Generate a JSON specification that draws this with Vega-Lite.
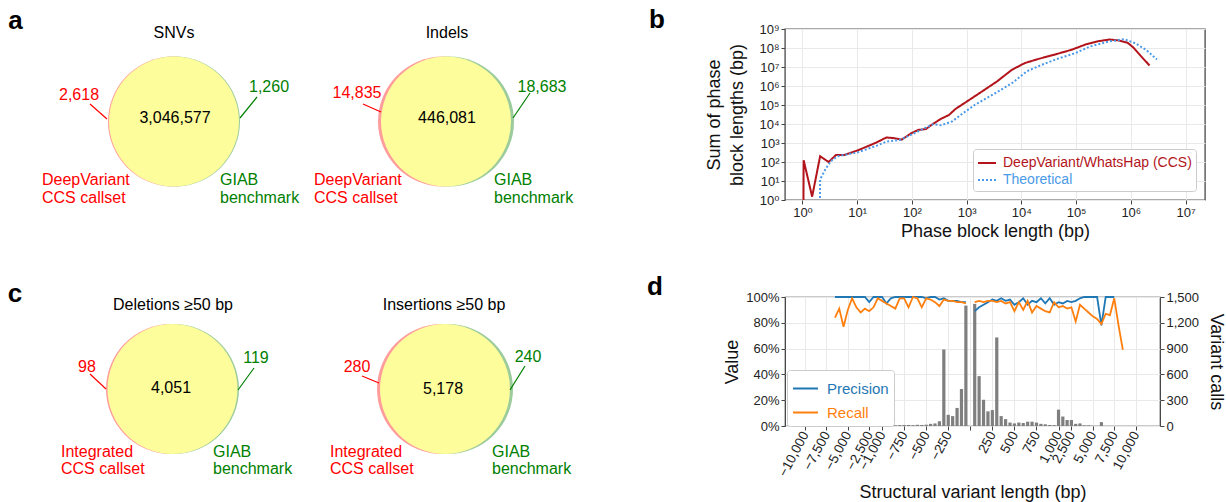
{
  "$schema": "https://vega.github.io/schema/vega-lite/v6.json",
  "padding": 0,
  "background": "white",
  "config": {
    "font": "Liberation Sans",
    "view": {"stroke": null},
    "axis": {"labelFont": "Liberation Sans, DejaVu Sans", "titleFont": "Liberation Sans", "labelColor": "#222222", "titleColor": "#111111", "titleFontWeight": "normal", "tickColor": "#444444", "domainColor": "#444444", "gridColor": "#e9e9e9"},
    "legend": {"labelFont": "Liberation Sans"}
  },
  "datasets": {
    "topCircles": [
      {"venn": "SNVs", "region": "callset only", "x": 173, "y": 121.5},
      {"venn": "SNVs", "region": "benchmark only", "x": 175, "y": 121.5},
      {"venn": "SNVs", "region": "shared", "x": 174, "y": 121.5},
      {"venn": "Indels", "region": "callset only", "x": 443, "y": 121.5},
      {"venn": "Indels", "region": "benchmark only", "x": 449, "y": 121.5},
      {"venn": "Indels", "region": "shared", "x": 446, "y": 121.5}
    ],
    "topCenterTexts": [
      {"text": "SNVs", "x": 174, "y": 33, "set": "title"},
      {"text": "Indels", "x": 447, "y": 33, "set": "title"},
      {"text": "2,618", "x": 79, "y": 95, "set": "callset"},
      {"text": "1,260", "x": 269, "y": 87, "set": "benchmark"},
      {"text": "3,046,577", "x": 175, "y": 118, "set": "shared"},
      {"text": "14,835", "x": 357, "y": 93, "set": "callset"},
      {"text": "18,683", "x": 542, "y": 87, "set": "benchmark"},
      {"text": "446,081", "x": 447, "y": 118, "set": "shared"}
    ],
    "topSetNames": [
      {"text": "DeepVariant", "x": 42, "y": 180, "set": "callset"},
      {"text": "CCS callset", "x": 42, "y": 198, "set": "callset"},
      {"text": "GIAB", "x": 220, "y": 180, "set": "benchmark"},
      {"text": "benchmark", "x": 220, "y": 198, "set": "benchmark"},
      {"text": "DeepVariant", "x": 314, "y": 180, "set": "callset"},
      {"text": "CCS callset", "x": 314, "y": 198, "set": "callset"},
      {"text": "GIAB", "x": 494, "y": 180, "set": "benchmark"},
      {"text": "benchmark", "x": 494, "y": 198, "set": "benchmark"}
    ],
    "topLetters": [
      {"text": "a", "x": 15.5, "y": 29},
      {"text": "b", "x": 657, "y": 28}
    ],
    "topLeaders": [
      {"x": 90, "y": 104, "x2": 107, "y2": 119, "set": "callset"},
      {"x": 257, "y": 97, "x2": 240, "y2": 118, "set": "benchmark"},
      {"x": 363, "y": 104, "x2": 381, "y2": 112, "set": "callset"},
      {"x": 530, "y": 93, "x2": 513, "y2": 118, "set": "benchmark"}
    ],
    "botCircles": [
      {"venn": "Deletions", "region": "callset only", "x": 171, "y": 92},
      {"venn": "Deletions", "region": "benchmark only", "x": 174, "y": 92},
      {"venn": "Deletions", "region": "shared", "x": 172.5, "y": 92},
      {"venn": "Insertions", "region": "callset only", "x": 442, "y": 92},
      {"venn": "Insertions", "region": "benchmark only", "x": 448, "y": 92},
      {"venn": "Insertions", "region": "shared", "x": 445, "y": 92}
    ],
    "botCenterTexts": [
      {"text": "Deletions ≥50 bp", "x": 173, "y": 8, "set": "title"},
      {"text": "Insertions ≥50 bp", "x": 444, "y": 8, "set": "title"},
      {"text": "98", "x": 87, "y": 70, "set": "callset"},
      {"text": "119", "x": 256, "y": 61, "set": "benchmark"},
      {"text": "4,051", "x": 171, "y": 91, "set": "shared"},
      {"text": "280", "x": 357, "y": 70, "set": "callset"},
      {"text": "240", "x": 528, "y": 60, "set": "benchmark"},
      {"text": "5,178", "x": 443, "y": 92, "set": "shared"}
    ],
    "botSetNames": [
      {"text": "Integrated", "x": 61, "y": 155, "set": "callset"},
      {"text": "CCS callset", "x": 61, "y": 172, "set": "callset"},
      {"text": "GIAB", "x": 213, "y": 155, "set": "benchmark"},
      {"text": "benchmark", "x": 213, "y": 172, "set": "benchmark"},
      {"text": "Integrated", "x": 330, "y": 155, "set": "callset"},
      {"text": "CCS callset", "x": 330, "y": 172, "set": "callset"},
      {"text": "GIAB", "x": 492, "y": 155, "set": "benchmark"},
      {"text": "benchmark", "x": 492, "y": 172, "set": "benchmark"}
    ],
    "botLetters": [
      {"text": "c", "x": 15, "y": 5},
      {"text": "d", "x": 655, "y": -2}
    ],
    "botLeaders": [
      {"x": 90, "y": 77, "x2": 106, "y2": 92, "set": "callset"},
      {"x": 254, "y": 71, "x2": 238, "y2": 93, "set": "benchmark"},
      {"x": 362, "y": 79, "x2": 379, "y2": 86, "set": "callset"},
      {"x": 525, "y": 69, "x2": 510, "y2": 93, "set": "benchmark"}
    ],
    "phase": [
      {"series": "DeepVariant/WhatsHap (CCS)", "length": 1.04, "sum": 0.3},
      {"series": "DeepVariant/WhatsHap (CCS)", "length": 1.05, "sum": 125},
      {"series": "DeepVariant/WhatsHap (CCS)", "length": 1.5, "sum": 1.5},
      {"series": "DeepVariant/WhatsHap (CCS)", "length": 2.1, "sum": 200},
      {"series": "DeepVariant/WhatsHap (CCS)", "length": 3.0, "sum": 100},
      {"series": "DeepVariant/WhatsHap (CCS)", "length": 4.1, "sum": 235},
      {"series": "DeepVariant/WhatsHap (CCS)", "length": 5.7, "sum": 230},
      {"series": "DeepVariant/WhatsHap (CCS)", "length": 10, "sum": 400},
      {"series": "DeepVariant/WhatsHap (CCS)", "length": 16, "sum": 700},
      {"series": "DeepVariant/WhatsHap (CCS)", "length": 23, "sum": 1100},
      {"series": "DeepVariant/WhatsHap (CCS)", "length": 34, "sum": 1950},
      {"series": "DeepVariant/WhatsHap (CCS)", "length": 47, "sum": 1800},
      {"series": "DeepVariant/WhatsHap (CCS)", "length": 65, "sum": 1500},
      {"series": "DeepVariant/WhatsHap (CCS)", "length": 96, "sum": 3200},
      {"series": "DeepVariant/WhatsHap (CCS)", "length": 131, "sum": 4900},
      {"series": "DeepVariant/WhatsHap (CCS)", "length": 180, "sum": 5400},
      {"series": "DeepVariant/WhatsHap (CCS)", "length": 228, "sum": 9000},
      {"series": "DeepVariant/WhatsHap (CCS)", "length": 338, "sum": 18600},
      {"series": "DeepVariant/WhatsHap (CCS)", "length": 477, "sum": 30000},
      {"series": "DeepVariant/WhatsHap (CCS)", "length": 630, "sum": 63000},
      {"series": "DeepVariant/WhatsHap (CCS)", "length": 1000, "sum": 150000},
      {"series": "DeepVariant/WhatsHap (CCS)", "length": 1900, "sum": 510000},
      {"series": "DeepVariant/WhatsHap (CCS)", "length": 3550, "sum": 1700000},
      {"series": "DeepVariant/WhatsHap (CCS)", "length": 6700, "sum": 7100000},
      {"series": "DeepVariant/WhatsHap (CCS)", "length": 11500, "sum": 16000000},
      {"series": "DeepVariant/WhatsHap (CCS)", "length": 20000, "sum": 26000000},
      {"series": "DeepVariant/WhatsHap (CCS)", "length": 44000, "sum": 48000000},
      {"series": "DeepVariant/WhatsHap (CCS)", "length": 83000, "sum": 81000000},
      {"series": "DeepVariant/WhatsHap (CCS)", "length": 155000, "sum": 160000000},
      {"series": "DeepVariant/WhatsHap (CCS)", "length": 260000, "sum": 230000000},
      {"series": "DeepVariant/WhatsHap (CCS)", "length": 410000, "sum": 280000000},
      {"series": "DeepVariant/WhatsHap (CCS)", "length": 600000, "sum": 250000000},
      {"series": "DeepVariant/WhatsHap (CCS)", "length": 870000, "sum": 190000000},
      {"series": "DeepVariant/WhatsHap (CCS)", "length": 1100000, "sum": 110000000},
      {"series": "DeepVariant/WhatsHap (CCS)", "length": 1500000, "sum": 40000000},
      {"series": "DeepVariant/WhatsHap (CCS)", "length": 2200000, "sum": 12000000},
      {"series": "Theoretical", "length": 2.08, "sum": 0.3},
      {"series": "Theoretical", "length": 2.1, "sum": 12},
      {"series": "Theoretical", "length": 2.6, "sum": 40},
      {"series": "Theoretical", "length": 3.3, "sum": 112},
      {"series": "Theoretical", "length": 4.4, "sum": 200},
      {"series": "Theoretical", "length": 6.4, "sum": 250},
      {"series": "Theoretical", "length": 10, "sum": 316},
      {"series": "Theoretical", "length": 23, "sum": 730},
      {"series": "Theoretical", "length": 34.5, "sum": 1200},
      {"series": "Theoretical", "length": 60, "sum": 1450},
      {"series": "Theoretical", "length": 96, "sum": 2700},
      {"series": "Theoretical", "length": 180, "sum": 6500},
      {"series": "Theoretical", "length": 245, "sum": 9800},
      {"series": "Theoretical", "length": 338, "sum": 8500},
      {"series": "Theoretical", "length": 540, "sum": 13500},
      {"series": "Theoretical", "length": 860, "sum": 37000},
      {"series": "Theoretical", "length": 1400, "sum": 100000},
      {"series": "Theoretical", "length": 3000, "sum": 350000},
      {"series": "Theoretical", "length": 6700, "sum": 1400000},
      {"series": "Theoretical", "length": 12500, "sum": 5900000},
      {"series": "Theoretical", "length": 23500, "sum": 13000000},
      {"series": "Theoretical", "length": 44000, "sum": 26000000},
      {"series": "Theoretical", "length": 97000, "sum": 54000000},
      {"series": "Theoretical", "length": 180000, "sum": 120000000},
      {"series": "Theoretical", "length": 400000, "sum": 220000000},
      {"series": "Theoretical", "length": 750000, "sum": 290000000},
      {"series": "Theoretical", "length": 1200000, "sum": 180000000},
      {"series": "Theoretical", "length": 1900000, "sum": 80000000},
      {"series": "Theoretical", "length": 3000000, "sum": 25000000}
    ],
    "sv": [
      {"len": -6500, "type": "DEL", "calls": 45, "Precision": 100, "Recall": 84},
      {"len": -6000, "type": "DEL", "calls": 0, "Precision": 100, "Recall": 91},
      {"len": -5500, "type": "DEL", "calls": 12, "Precision": 100, "Recall": 77},
      {"len": -5000, "type": "DEL", "calls": 0, "Precision": 100, "Recall": 90},
      {"len": -4500, "type": "DEL", "calls": 8, "Precision": 100, "Recall": 99},
      {"len": -4000, "type": "DEL", "calls": 5, "Precision": 100, "Recall": 92},
      {"len": -3500, "type": "DEL", "calls": 22, "Precision": 100, "Recall": 88},
      {"len": -3000, "type": "DEL", "calls": 28, "Precision": 100, "Recall": 91},
      {"len": -2500, "type": "DEL", "calls": 30, "Precision": 96, "Recall": 89},
      {"len": -2000, "type": "DEL", "calls": 45, "Precision": 100, "Recall": 92},
      {"len": -1500, "type": "DEL", "calls": 70, "Precision": 100, "Recall": 99},
      {"len": -1000, "type": "DEL", "calls": 110, "Precision": 100, "Recall": 97},
      {"len": -950, "type": "DEL", "calls": 15, "Precision": 95, "Recall": 95},
      {"len": -900, "type": "DEL", "calls": 5, "Precision": 99, "Recall": 93},
      {"len": -850, "type": "DEL", "calls": 8, "Precision": 100, "Recall": 91},
      {"len": -800, "type": "DEL", "calls": 10, "Precision": 100, "Recall": 99},
      {"len": -750, "type": "DEL", "calls": 12, "Precision": 100, "Recall": 99},
      {"len": -700, "type": "DEL", "calls": 12, "Precision": 100, "Recall": 92},
      {"len": -650, "type": "DEL", "calls": 10, "Precision": 100, "Recall": 100},
      {"len": -600, "type": "DEL", "calls": 14, "Precision": 100, "Recall": 99},
      {"len": -550, "type": "DEL", "calls": 12, "Precision": 100, "Recall": 92},
      {"len": -500, "type": "DEL", "calls": 15, "Precision": 99, "Recall": 99},
      {"len": -450, "type": "DEL", "calls": 25, "Precision": 100, "Recall": 98},
      {"len": -400, "type": "DEL", "calls": 30, "Precision": 100, "Recall": 96},
      {"len": -350, "type": "DEL", "calls": 55, "Precision": 98, "Recall": 93},
      {"len": -300, "type": "DEL", "calls": 890, "Precision": 99, "Recall": 98},
      {"len": -250, "type": "DEL", "calls": 130, "Precision": 97, "Recall": 97},
      {"len": -200, "type": "DEL", "calls": 115, "Precision": 97, "Recall": 97},
      {"len": -150, "type": "DEL", "calls": 210, "Precision": 97, "Recall": 96},
      {"len": -100, "type": "DEL", "calls": 430, "Precision": 96, "Recall": 96},
      {"len": -50, "type": "DEL", "calls": 1400, "Precision": 96, "Recall": 95},
      {"len": 50, "type": "INS", "calls": 1420, "Precision": 89, "Recall": 96},
      {"len": 100, "type": "INS", "calls": 580, "Precision": 92, "Recall": 97},
      {"len": 150, "type": "INS", "calls": 305, "Precision": 94, "Recall": 96},
      {"len": 200, "type": "INS", "calls": 170, "Precision": 96, "Recall": 97},
      {"len": 250, "type": "INS", "calls": 185, "Precision": 98, "Recall": 97},
      {"len": 300, "type": "INS", "calls": 1030, "Precision": 97, "Recall": 96},
      {"len": 350, "type": "INS", "calls": 115, "Precision": 99, "Recall": 97},
      {"len": 400, "type": "INS", "calls": 80, "Precision": 97, "Recall": 95},
      {"len": 450, "type": "INS", "calls": 40, "Precision": 98, "Recall": 96},
      {"len": 500, "type": "INS", "calls": 30, "Precision": 94, "Recall": 89},
      {"len": 550, "type": "INS", "calls": 40, "Precision": 96, "Recall": 96},
      {"len": 600, "type": "INS", "calls": 35, "Precision": 99, "Recall": 90},
      {"len": 650, "type": "INS", "calls": 50, "Precision": 94, "Recall": 97},
      {"len": 700, "type": "INS", "calls": 50, "Precision": 97, "Recall": 88},
      {"len": 750, "type": "INS", "calls": 40, "Precision": 96, "Recall": 93},
      {"len": 800, "type": "INS", "calls": 25, "Precision": 99, "Recall": 91},
      {"len": 850, "type": "INS", "calls": 20, "Precision": 95, "Recall": 89},
      {"len": 900, "type": "INS", "calls": 12, "Precision": 99, "Recall": 88},
      {"len": 950, "type": "INS", "calls": 10, "Precision": 94, "Recall": 96},
      {"len": 1000, "type": "INS", "calls": 190, "Precision": 96, "Recall": 92},
      {"len": 1500, "type": "INS", "calls": 110, "Precision": 95, "Recall": 93},
      {"len": 2000, "type": "INS", "calls": 70, "Precision": 97, "Recall": 91},
      {"len": 2500, "type": "INS", "calls": 70, "Precision": 96, "Recall": 92},
      {"len": 3000, "type": "INS", "calls": 25, "Precision": 97, "Recall": 81},
      {"len": 3500, "type": "INS", "calls": 30, "Precision": 99, "Recall": 94},
      {"len": 4000, "type": "INS", "calls": 8, "Precision": 100, "Recall": 91},
      {"len": 4500, "type": "INS", "calls": 8, "Precision": 100, "Recall": 88},
      {"len": 5000, "type": "INS", "calls": 3, "Precision": 100, "Recall": 85},
      {"len": 5500, "type": "INS", "calls": 0, "Precision": 100, "Recall": 83},
      {"len": 6000, "type": "INS", "calls": 45, "Precision": 78, "Recall": 79},
      {"len": 6500, "type": "INS", "calls": 0, "Precision": 100, "Recall": 87},
      {"len": 7000, "type": "INS", "calls": 0, "Precision": 100, "Recall": 86},
      {"len": 7500, "type": "INS", "calls": 0, "Precision": 100, "Recall": 99},
      {"len": 8000, "type": "INS", "calls": 0, "Precision": null, "Recall": 78},
      {"len": 8500, "type": "INS", "calls": 0, "Precision": null, "Recall": 59}
    ]
  },
  "columns": 2,
  "bounds": "flush",
  "align": {"row": "each", "column": "none"},
  "center": {"row": true, "column": false},
  "spacing": {"row": 68, "column": 165},
  "resolve": {
    "scale": {"color": "independent", "fill": "independent", "strokeDash": "independent"},
    "legend": {"color": "independent", "fill": "independent", "strokeDash": "independent"}
  },
  "concat": [
    {
      "width": 620,
      "height": 229,
      "encoding": {
        "x": {"field": "x", "type": "quantitative", "scale": {"domain": [0, 620], "nice": false, "zero": false}, "axis": null},
        "y": {"field": "y", "type": "quantitative", "scale": {"domain": [0, 229], "reverse": true, "nice": false, "zero": false}, "axis": null}
      },
      "layer": [
        {
          "data": {"name": "topCircles"},
          "mark": {"type": "point", "shape": "circle", "filled": true, "size": 16900, "opacity": 1, "strokeWidth": 0},
          "encoding": {"fill": {"field": "region", "type": "nominal", "scale": {"domain": ["callset only", "benchmark only", "shared"], "range": ["#ff9c9c", "#9ccb9c", "#fdfd9b"]}, "legend": null}}
        },
        {
          "data": {"name": "topLeaders"},
          "mark": {"type": "rule", "strokeWidth": 1.2},
          "encoding": {
            "x2": {"field": "x2"}, "y2": {"field": "y2"},
            "color": {"field": "set", "type": "nominal", "scale": {"domain": ["callset", "benchmark", "shared", "title"], "range": ["#ff0000", "#008000", "#000000", "#000000"]}, "legend": null}
          }
        },
        {
          "data": {"name": "topCenterTexts"},
          "mark": {"type": "text", "fontSize": 16, "align": "center", "baseline": "middle"},
          "encoding": {
            "text": {"field": "text"},
            "color": {"field": "set", "type": "nominal", "scale": {"domain": ["callset", "benchmark", "shared", "title"], "range": ["#ff0000", "#008000", "#000000", "#000000"]}, "legend": null}
          }
        },
        {
          "data": {"name": "topSetNames"},
          "mark": {"type": "text", "fontSize": 16, "align": "left", "baseline": "middle"},
          "encoding": {
            "text": {"field": "text"},
            "color": {"field": "set", "type": "nominal", "scale": {"domain": ["callset", "benchmark", "shared", "title"], "range": ["#ff0000", "#008000", "#000000", "#000000"]}, "legend": null}
          }
        },
        {
          "data": {"name": "topLetters"},
          "mark": {"type": "text", "fontSize": 26, "fontWeight": "bold", "align": "center", "baseline": "alphabetic", "color": "#000000"},
          "encoding": {"text": {"field": "text"}}
        }
      ]
    },
    {
      "width": 420,
      "height": 171,
      "view": {"stroke": "#555555", "strokeWidth": 1.4},
      "data": {"name": "phase"},
      "mark": {"type": "line", "strokeWidth": 2, "clip": true},
      "encoding": {
        "x": {
          "field": "length", "type": "quantitative",
          "scale": {"type": "log", "domain": [0.479, 22700000], "nice": false},
          "axis": {"values": [1, 10, 100, 1000, 10000, 100000, 1000000, 10000000], "labelExpr": "'10' + ['⁰','¹','²','³','⁴','⁵','⁶','⁷','⁸','⁹'][round(log(datum.value)/LN10)]", "title": "Phase block length (bp)", "grid": true, "domain": false, "tickSize": 4, "labelFontSize": 13, "titleFontSize": 18, "labelPadding": 2, "titlePadding": 3}
        },
        "y": {
          "field": "sum", "type": "quantitative",
          "scale": {"type": "log", "domain": [1, 1000000000], "nice": false},
          "axis": {"values": [1, 10, 100, 1000, 10000, 100000, 1000000, 10000000, 100000000, 1000000000], "labelExpr": "'10' + ['⁰','¹','²','³','⁴','⁵','⁶','⁷','⁸','⁹'][round(log(datum.value)/LN10)]", "title": ["Sum of phase", "block lengths (bp)"], "grid": true, "domain": false, "tickSize": 4, "labelFontSize": 13, "titleFontSize": 18, "labelPadding": 2, "titlePadding": 12, "titleLineHeight": 23}
        },
        "color": {
          "field": "series", "type": "nominal",
          "scale": {"domain": ["DeepVariant/WhatsHap (CCS)", "Theoretical"], "range": ["#b3141c", "#4b9ae8"]},
          "legend": {"title": null, "orient": "bottom-right", "offset": 9, "labelFontSize": 14, "labelLimit": 300, "symbolType": "stroke", "symbolSize": 324, "symbolStrokeWidth": 2, "fillColor": "white", "strokeColor": "#cccccc", "padding": 4, "cornerRadius": 3, "rowPadding": 0, "labelOffset": 6, "encode": {"labels": {"update": {"fill": {"signal": "datum.label == 'Theoretical' ? '#4b9ae8' : '#b3141c'"}}}}}
        },
        "strokeDash": {
          "field": "series", "type": "nominal",
          "scale": {"domain": ["DeepVariant/WhatsHap (CCS)", "Theoretical"], "range": [[1, 0], [2, 2]]},
          "legend": {"title": null, "orient": "bottom-right", "offset": 9, "labelFontSize": 14, "labelLimit": 300, "symbolType": "stroke", "symbolSize": 324, "symbolStrokeWidth": 2, "fillColor": "white", "strokeColor": "#cccccc", "padding": 4, "cornerRadius": 3, "rowPadding": 0, "labelOffset": 6, "encode": {"labels": {"update": {"fill": {"signal": "datum.label == 'Theoretical' ? '#4b9ae8' : '#b3141c'"}}}}}
        }
      }
    },
    {
      "width": 620,
      "height": 129,
      "encoding": {
        "x": {"field": "x", "type": "quantitative", "scale": {"domain": [0, 620], "nice": false, "zero": false}, "axis": null},
        "y": {"field": "y", "type": "quantitative", "scale": {"domain": [0, 129], "reverse": true, "nice": false, "zero": false}, "axis": null}
      },
      "layer": [
        {
          "data": {"name": "botCircles"},
          "mark": {"type": "point", "shape": "circle", "filled": true, "size": 16900, "opacity": 1, "strokeWidth": 0},
          "encoding": {"fill": {"field": "region", "type": "nominal", "scale": {"domain": ["callset only", "benchmark only", "shared"], "range": ["#ff9c9c", "#9ccb9c", "#fdfd9b"]}, "legend": null}}
        },
        {
          "data": {"name": "botLeaders"},
          "mark": {"type": "rule", "strokeWidth": 1.2},
          "encoding": {
            "x2": {"field": "x2"}, "y2": {"field": "y2"},
            "color": {"field": "set", "type": "nominal", "scale": {"domain": ["callset", "benchmark", "shared", "title"], "range": ["#ff0000", "#008000", "#000000", "#000000"]}, "legend": null}
          }
        },
        {
          "data": {"name": "botCenterTexts"},
          "mark": {"type": "text", "fontSize": 16, "align": "center", "baseline": "middle"},
          "encoding": {
            "text": {"field": "text"},
            "color": {"field": "set", "type": "nominal", "scale": {"domain": ["callset", "benchmark", "shared", "title"], "range": ["#ff0000", "#008000", "#000000", "#000000"]}, "legend": null}
          }
        },
        {
          "data": {"name": "botSetNames"},
          "mark": {"type": "text", "fontSize": 16, "align": "left", "baseline": "middle"},
          "encoding": {
            "text": {"field": "text"},
            "color": {"field": "set", "type": "nominal", "scale": {"domain": ["callset", "benchmark", "shared", "title"], "range": ["#ff0000", "#008000", "#000000", "#000000"]}, "legend": null}
          }
        },
        {
          "data": {"name": "botLetters"},
          "mark": {"type": "text", "fontSize": 26, "fontWeight": "bold", "align": "center", "baseline": "alphabetic", "color": "#000000"},
          "encoding": {"text": {"field": "text"}}
        }
      ]
    },
    {
      "width": 375,
      "height": 129,
      "view": {"stroke": "#333333", "strokeWidth": 1.2},
      "data": {"name": "sv"},
      "encoding": {
        "x": {
          "field": "len", "type": "quantitative",
          "scale": {"domain": [-12000, -1000, 1000, 12500], "range": [0, 97.06, 273.53, 375], "nice": false, "zero": false},
          "axis": {"values": [-10000, -7500, -5000, -2500, -1000, -750, -500, -250, 0, 250, 500, 750, 1000, 2500, 5000, 7500, 10000], "labelExpr": "datum.value == 0 ? '' : format(datum.value, ',')", "labelAngle": -62, "labelOverlap": false, "labelBound": false, "labelFontSize": 13.5, "grid": true, "domain": false, "tickSize": 4, "title": "Structural variant length (bp)", "titleFontSize": 18, "titlePadding": 5}
        }
      },
      "layer": [
        {
          "mark": {"type": "bar", "size": 3.2, "color": "#7f7f7f"},
          "encoding": {
            "y": {"field": "calls", "type": "quantitative", "scale": {"domain": [0, 1500], "nice": false}, "axis": {"orient": "right", "title": "Variant calls", "values": [0, 300, 600, 900, 1200, 1500], "labelExpr": "format(datum.value, ',')", "grid": false, "domain": false, "tickSize": 4, "labelFontSize": 13, "titleFontSize": 18, "titlePadding": 8}}
          }
        },
        {
          "transform": [{"fold": ["Precision", "Recall"], "as": ["metric", "value"]}, {"filter": "isValid(datum.value)"}],
          "mark": {"type": "line", "strokeWidth": 1.8},
          "encoding": {
            "y": {"field": "value", "type": "quantitative", "scale": {"domain": [0, 100], "nice": false}, "axis": {"orient": "left", "title": "Value", "values": [0, 20, 40, 60, 80, 100], "labelExpr": "datum.value + '%'", "grid": true, "domain": false, "tickSize": 4, "labelFontSize": 13, "titleFontSize": 18, "titlePadding": 4}},
            "color": {
              "field": "metric", "type": "nominal",
              "scale": {"domain": ["Precision", "Recall"], "range": ["#1f77b4", "#ff7f0e"]},
              "legend": {"title": null, "orient": "none", "legendX": 2, "legendY": 73, "labelFontSize": 15, "symbolType": "stroke", "symbolSize": 625, "symbolStrokeWidth": 2, "fillColor": "white", "strokeColor": "#cccccc", "padding": 5, "cornerRadius": 3, "rowPadding": 2, "labelOffset": 8, "encode": {"labels": {"update": {"fill": {"signal": "datum.label == 'Recall' ? '#ff7f0e' : '#1f77b4'"}}}}}
            },
            "detail": {"field": "type"}
          }
        }
      ],
      "resolve": {"scale": {"y": "independent"}, "axis": {"y": "independent"}}
    }
  ]
}
